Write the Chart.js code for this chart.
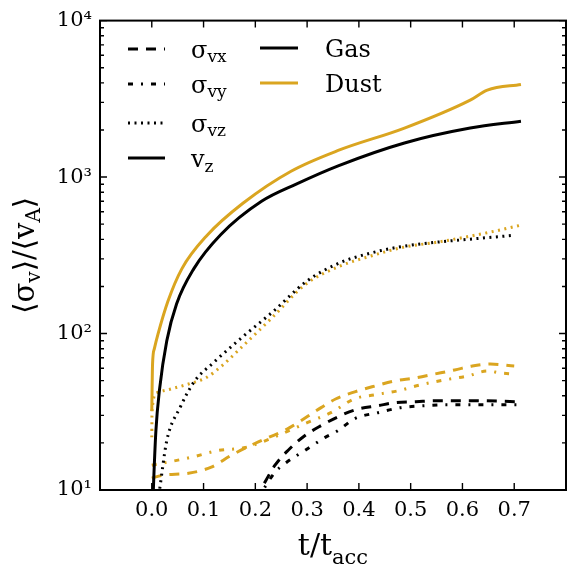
<!DOCTYPE html>
<html><head><meta charset="utf-8">
<script src="https://cdn.jsdelivr.net/npm/chart.js@4.4.1/dist/chart.umd.min.js"></script>
<style>html,body{margin:0;padding:0;background:#fff;}canvas{display:block;}</style>
</head><body>
<canvas id="c" width="568" height="566"></canvas>
<script>
// ---- data (t / t_acc, <sigma_v>/<v_A>) ----
const xTickValues = [0.0, 0.1, 0.2, 0.3, 0.4, 0.5, 0.6, 0.7];
const yTickValues = [10, 100, 1000, 10000];
const yTickLabels = ['10¹', '10²', '10³', '10⁴'];

const tGasVz = [0.0, 0.003, 0.008, 0.015, 0.029, 0.048, 0.081, 0.133, 0.212, 0.28, 0.36, 0.488, 0.615, 0.713];
const gasVz  = [5, 10, 24, 44, 90, 155, 259, 428, 700, 905, 1180, 1652, 2057, 2276];

const tDustVz = [0.0, 0.0015, 0.005, 0.012, 0.031, 0.058, 0.107, 0.176, 0.269, 0.36, 0.488, 0.615, 0.648, 0.713];
const dustVz  = [32, 64, 80, 99, 160, 259, 425, 680, 1090, 1479, 2057, 3105, 3598, 3909];

const tGasSz = [0.008, 0.015, 0.029, 0.0545, 0.083, 0.118, 0.170, 0.234, 0.300, 0.363, 0.423, 0.488, 0.552, 0.615, 0.702];
const gasSz  = [7, 10, 20.7, 33.6, 49.8, 64.7, 91.9, 138, 217, 283, 327, 362, 384, 401, 425];

const tDustSz = [0.0, 0.0005, 0.0096, 0.038, 0.071, 0.104, 0.135, 0.167, 0.231, 0.296, 0.36, 0.423, 0.488, 0.552, 0.615, 0.662, 0.712];
const dustSz  = [21.7, 32, 41.8, 44.3, 47.6, 52, 62, 78, 125, 205, 267, 313, 357, 384, 419, 451, 492];

const tGasSx = [0.2, 0.21, 0.238, 0.263, 0.296, 0.327, 0.36, 0.394, 0.437, 0.471, 0.51, 0.552, 0.625, 0.702];
const gasSx  = [8.8, 10, 14.4, 17.9, 22.3, 25.8, 29.4, 32.6, 34.6, 36.2, 36.7, 37.2, 37.2, 36.7];

const tGasSy = [0.205, 0.215, 0.238, 0.26, 0.296, 0.335, 0.36, 0.392, 0.437, 0.481, 0.527, 0.571, 0.706];
const gasSy  = [8.8, 10, 13, 15, 17.9, 21.7, 24, 28.6, 31.2, 33.6, 34.6, 35.1, 35.1];

const tDustSx = [0.0, 0.019, 0.071, 0.115, 0.154, 0.2, 0.263, 0.327, 0.356, 0.392, 0.431, 0.469, 0.508, 0.546, 0.585, 0.619, 0.654, 0.7];
const dustSx  = [11.9, 12.4, 12.8, 14, 16.7, 19.9, 24.7, 33.6, 38.3, 42.4, 46.2, 49.8, 52, 55.1, 58.5, 62, 63.8, 62];

const tDustSy = [0.0, 0.019, 0.077, 0.129, 0.181, 0.244, 0.296, 0.346, 0.392, 0.431, 0.475, 0.519, 0.565, 0.61, 0.648, 0.673, 0.7];
const dustSy  = [14.4, 14.8, 16.2, 17.9, 18.7, 22.3, 26.6, 31.2, 38.3, 40.6, 43, 47, 50.5, 53.5, 57.6, 56, 55.1];

// ---- styles ----
const GOLD = '#DAA520';
const DASHED = [10, 8], DASHDOT = [5, 8, 2, 8], DOTTED = [2, 4.5];
const SERIF = 'DejaVu Serif';

const pts = (ts, vs) => ts.map((t, i) => ({x: t, y: vs[i]}));
function ds(label, ts, vs, color, dash, w) {
  return {label, data: pts(ts, vs), borderColor: color, borderWidth: w || 3,
          borderDash: dash, fill: false, pointRadius: 0, cubicInterpolationMode: 'monotone'};
}

function drawRich(ctx, parts, x, y, align) {
  let total = 0;
  parts.forEach(p => { ctx.font = p.s + 'px "' + SERIF + '"'; p.w = ctx.measureText(p.t).width; total += p.w; });
  let cx = align === 'center' ? x - total / 2 : x;
  ctx.textAlign = 'left'; ctx.textBaseline = 'alphabetic';
  parts.forEach(p => { ctx.font = p.s + 'px "' + SERIF + '"'; ctx.fillText(p.t, cx, y + (p.dy || 0)); cx += p.w; });
}

const framePlugin = {
  id: 'frame',
  afterDatasetsDraw(chart) {
    const {ctx, chartArea: a, scales: {x, y}} = chart;
    ctx.save();
    ctx.strokeStyle = '#000'; ctx.fillStyle = '#000';
    ctx.lineWidth = 1.4;
    ctx.beginPath();
    xTickValues.forEach(v => {
      const px = x.getPixelForValue(v);
      ctx.moveTo(px, a.bottom); ctx.lineTo(px, a.bottom - 7);
      ctx.moveTo(px, a.top); ctx.lineTo(px, a.top + 7);
    });
    for (let d = 10; d <= 10000; d *= 10) {
      for (let m = 1; m <= 9; m++) {
        const v = m * d;
        if (v > 10000) break;
        const py = y.getPixelForValue(v);
        const L = m === 1 ? 7 : 4;
        ctx.moveTo(a.left, py); ctx.lineTo(a.left + L, py);
        ctx.moveTo(a.right, py); ctx.lineTo(a.right - L, py);
      }
    }
    ctx.stroke();
    ctx.lineWidth = 2;
    ctx.strokeRect(a.left, a.top, a.right - a.left, a.bottom - a.top);

    // axis titles
    drawRich(ctx, [{t: 't/t', s: 30}, {t: 'acc', s: 21, dy: 9}], (a.left + a.right) / 2, 555, 'center');
    ctx.save();
    ctx.translate(34, (a.top + a.bottom) / 2);
    ctx.rotate(-Math.PI / 2);
    drawRich(ctx, [{t: '⟨σ', s: 29}, {t: 'v', s: 20, dy: 6}, {t: '⟩/⟨v', s: 29}, {t: 'A', s: 20, dy: 6}, {t: '⟩', s: 29}], 0, 0, 'center');
    ctx.restore();

    // legend
    const rows1 = [
      {y: 49, dash: DASHED, parts: [{t: 'σ', s: 24}, {t: 'vx', s: 17, dy: 4}]},
      {y: 84, dash: DASHDOT, parts: [{t: 'σ', s: 24}, {t: 'vy', s: 17, dy: 4}]},
      {y: 123, dash: DOTTED, parts: [{t: 'σ', s: 24}, {t: 'vz', s: 17, dy: 4}]},
      {y: 158, dash: [], parts: [{t: 'v', s: 24}, {t: 'z', s: 17, dy: 5}]}
    ];
    rows1.forEach(r => {
      ctx.beginPath(); ctx.setLineDash(r.dash); ctx.lineWidth = 3; ctx.strokeStyle = '#000';
      ctx.moveTo(128, r.y); ctx.lineTo(165, r.y); ctx.stroke();
      ctx.setLineDash([]);
      drawRich(ctx, r.parts, 191, r.y + 9, 'left');
    });
    const rows2 = [
      {y: 48, color: '#000', text: 'Gas'},
      {y: 83, color: GOLD, text: 'Dust'}
    ];
    rows2.forEach(r => {
      ctx.beginPath(); ctx.lineWidth = 3; ctx.strokeStyle = r.color;
      ctx.moveTo(260, r.y); ctx.lineTo(298, r.y); ctx.stroke();
      ctx.fillStyle = '#000';
      drawRich(ctx, [{t: r.text, s: 24}], 325, r.y + 9, 'left');
    });
    ctx.restore();
  }
};

new Chart(document.getElementById('c'), {
  type: 'line',
  data: {
    datasets: [
      ds('Gas σvx', tGasSx, gasSx, '#000', DASHED),
      ds('Gas σvy', tGasSy, gasSy, '#000', DASHDOT),
      ds('Gas σvz', tGasSz, gasSz, '#000', DOTTED),
      ds('Gas vz', tGasVz, gasVz, '#000', []),
      ds('Dust σvx', tDustSx, dustSx, GOLD, DASHED),
      ds('Dust σvy', tDustSy, dustSy, GOLD, DASHDOT),
      ds('Dust σvz', tDustSz, dustSz, GOLD, DOTTED),
      ds('Dust vz', tDustVz, dustVz, GOLD, [])
    ]
  },
  options: {
    responsive: false, devicePixelRatio: 1, animation: false,
    layout: {padding: {top: 17, right: 2, left: 0, bottom: 0}},
    plugins: {legend: {display: false}, tooltip: {enabled: false}},
    scales: {
      x: {
        type: 'linear', min: -0.1, max: 0.8,
        afterBuildTicks: s => { s.ticks = xTickValues.map(v => ({value: v})); },
        afterFit: s => { s.height = 76; },
        grid: {display: false, drawTicks: false}, border: {display: false},
        ticks: {font: {family: SERIF, size: 21}, color: '#000', padding: 8, maxRotation: 0, autoSkip: false,
                callback: v => Number(v).toFixed(1)}
      },
      y: {
        type: 'logarithmic', min: 10, max: 10000,
        afterBuildTicks: s => { s.ticks = yTickValues.map(v => ({value: v, major: true})); },
        afterFit: s => { s.width = 100; },
        grid: {display: false, drawTicks: false}, border: {display: false},
        ticks: {font: {family: SERIF, size: 21}, color: '#000', padding: 8, autoSkip: false,
                callback: v => yTickLabels[yTickValues.indexOf(v)]}
      }
    }
  },
  plugins: [framePlugin]
});
</script>
</body></html>
